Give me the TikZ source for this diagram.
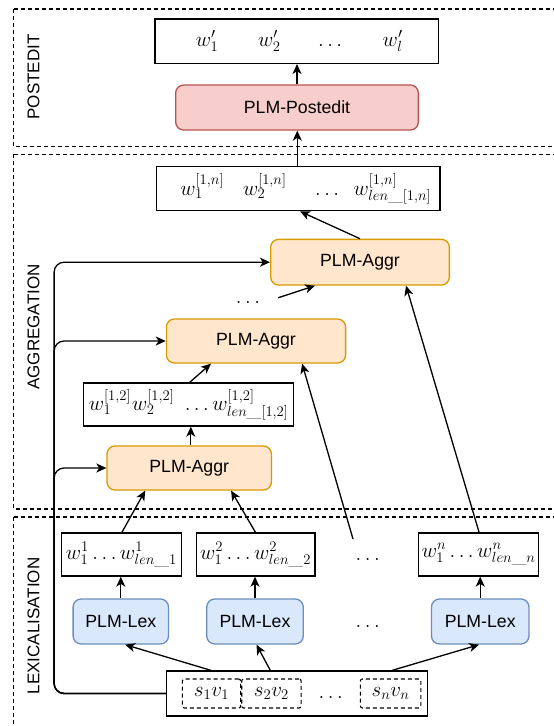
\RequirePackage{fix-cm}
\documentclass[tikz,border=0pt]{standalone}
\usepackage{fontspec}
\newfontfamily\lsans{Liberation Sans}
\usetikzlibrary{arrows.meta,calc}
\definecolor{pefill}{HTML}{F8CECC}
\definecolor{pedraw}{HTML}{B85450}
\definecolor{agfill}{HTML}{FFE6CC}
\definecolor{agdraw}{HTML}{D79B00}
\definecolor{lxfill}{HTML}{DAE8FC}
\definecolor{lxdraw}{HTML}{6C8EBF}
\newcommand{\fsz}{\fontsize{17.7}{21}\selectfont}
\newcommand{\msz}{\fontsize{21}{24}\selectfont}
\begin{document}
\begin{tikzpicture}[x=1pt,y=-1pt,
  box/.style={draw=black, line width=1.3pt, fill=white, inner sep=0pt, font=\msz},
  plm/.style={box, rounded corners=8pt, font=\lsans\fsz},
  aggbox/.style={plm, fill=agfill, draw=agdraw},
  lexbox/.style={plm, fill=lxfill, draw=lxdraw},
  pebox/.style={plm, fill=pefill, draw=pedraw},
  inbox/.style={draw=black, line width=1.1pt, dash pattern=on 4pt off 3pt, rounded corners=2pt, inner sep=0pt, font=\msz},
  arr/.style={-{Stealth[length=10pt,width=9pt,inset=2.8pt]}, line width=1.3pt},
  sec/.style={draw=black, line width=1.1pt, dash pattern=on 4pt off 3pt},
  seclabel/.style={rotate=90, font=\lsans\fontsize{17}{20}\selectfont, inner sep=0pt},
  dots/.style={font=\msz, inner sep=0pt, anchor=base}
]
\clip (0,0) rectangle (554,726);
\fill[white] (0,0) rectangle (554,726);

% sections
\draw[sec] (13.8,9) rectangle (620,146.7);
\draw[sec] (13.8,154.3) rectangle (620,509);
\draw[sec] (13.8,517) rectangle (620,760);
\node[seclabel] (lpe) at (33.6,77) {POSTEDIT};
\node[seclabel] (lag) at (33.6,327) {AGGREGATION};
\node[seclabel] (llx) at (33.6,626) {LEXICALISATION};

% postedit
\node[box, minimum width=283.3pt, minimum height=44.3pt] (out) at (296.7,41.2)
  {\hspace{5pt}$w'_1\hspace{40pt}w'_2\hspace{34pt}\ldots\hspace{37pt}w'_l$};
\node[pebox, minimum width=242.7pt, minimum height=45pt] (post) at (297,107.5) {PLM-Postedit};

% aggregation
\node[box, minimum width=283.3pt, minimum height=44pt] (aggout) at (298.3,188.7)
  {\hspace{15pt}$w_1^{[1,n]}\hspace{19pt}w_2^{[1,n]}\hspace{25pt}\ldots\hspace{11pt}w_{len\_[1,n]}^{[1,n]}$};
\node[aggbox, minimum width=178.7pt, minimum height=45.7pt] (aggr3) at (360,262.2) {PLM-Aggr};
\node[aggbox, minimum width=179.2pt, minimum height=44pt] (aggr2) at (256,341) {PLM-Aggr};
\node[box, minimum width=209.9pt, minimum height=43pt] (box12) at (188.7,404.5)
  {$w_1^{[1,2]}\hspace{1pt}w_2^{[1,2]}\hspace{7pt}\ldots w_{len\_[1,2]}^{[1,2]}$\hspace{5pt}};
\node[aggbox, minimum width=164.4pt, minimum height=44pt] (aggr1) at (189.2,468) {PLM-Aggr};
\node[dots] (adots) at (248,303.5) {$\ldots$};

% lexicalisation
\node[box, minimum width=119.8pt, minimum height=43pt] (lo1) at (121.4,554.5) {$w_1^1\ldots w_{len\_1}^1$};
\node[box, minimum width=118.7pt, minimum height=43pt] (lo2) at (255.5,554.5) {$w_1^2\ldots w_{len\_2}^2$};
\node[box, minimum width=119.8pt, minimum height=43pt] (lon) at (478.6,554.5) {$w_1^n\ldots w_{len\_n}^n$};
\node[dots] (ldots1) at (367.8,560) {$\ldots$};

\node[lexbox, minimum width=95.4pt, minimum height=45pt] (lex1) at (120.8,621.5) {PLM-Lex};
\node[lexbox, minimum width=96.5pt, minimum height=45pt] (lex2) at (255,621.5) {PLM-Lex};
\node[lexbox, minimum width=97.5pt, minimum height=45pt] (lexn) at (480.2,621.5) {PLM-Lex};
\node[dots] (ldots2) at (367.8,627.5) {$\ldots$};

\node[box, minimum width=260.8pt, minimum height=45pt] (input) at (296.8,693.5) {};
\node[inbox, minimum width=58.3pt, minimum height=29pt] (s1) at (211.5,693.5) {$s_1v_1$};
\node[inbox, minimum width=59.4pt, minimum height=29pt] (s2) at (271.4,693.5) {$s_2v_2$};
\node[inbox, minimum width=60.4pt, minimum height=29pt] (sn) at (390.6,693.5) {$s_nv_n$};
\node[dots] (idots) at (330.7,698.5) {$\ldots$};

% free ends
\coordinate (rail) at (54.1,0);
\coordinate (dline) at (353,539);
\coordinate (dstart) at (278.3,297.7);

% connectors: input to lex
\draw[arr] ([xshift=-85.8pt]input.north) -- ([xshift=4.3pt]lex1.south);
\draw[arr] ([xshift=-26.5pt]input.north) -- ([xshift=1.5pt]lex2.south);
\draw[arr] ([xshift=95.4pt]input.north) -- ([xshift=-1.1pt]lexn.south);
% lex to outputs
\draw[arr] (lex1.north) -- (lex1.north |- lo1.south);
\draw[arr] (lex2.north) -- (lex2.north |- lo2.south);
\draw[arr] (lexn.north) -- (lexn.north |- lon.south);
% lex outputs to aggregators
\draw[arr] ([xshift=0.5pt]lo1.north) -- ([xshift=-44pt]aggr1.south);
\draw[arr] (lo2.north) -- ([xshift=41.9pt]aggr1.south);
\draw[arr] (dline) -- ([xshift=46.1pt]aggr2.south);
\draw[arr] ([xshift=0.5pt]lon.north) -- ([xshift=46pt]aggr3.south);
% aggregation chain
\draw[arr] ([xshift=1.6pt]aggr1.north) -- ([xshift=1.6pt]aggr1.north |- box12.south);
\draw[arr] ([xshift=1pt]box12.north) -- ([xshift=-45pt]aggr2.south);
\draw[arr] (dstart) -- ([xshift=-45pt]aggr3.south);
\draw[arr] (aggr3.north) -- ([xshift=1.7pt]aggout.south);
\draw[arr] ([xshift=-1pt]aggout.north) -- ([xshift=-1pt]aggout.north |- post.south);
\draw[arr] (post.north) -- (post.north |- out.south);
% input to aggregators (rail on the left)
\draw[arr, rounded corners=10pt] (input.west) -- (rail |- input.west) |- (aggr1.west);
\draw[arr, rounded corners=10pt] (input.west) -- (rail |- input.west) |- (aggr2.west);
\draw[arr, rounded corners=10pt] (input.west) -- (rail |- input.west) |- (aggr3.west);
\end{tikzpicture}
\end{document}
